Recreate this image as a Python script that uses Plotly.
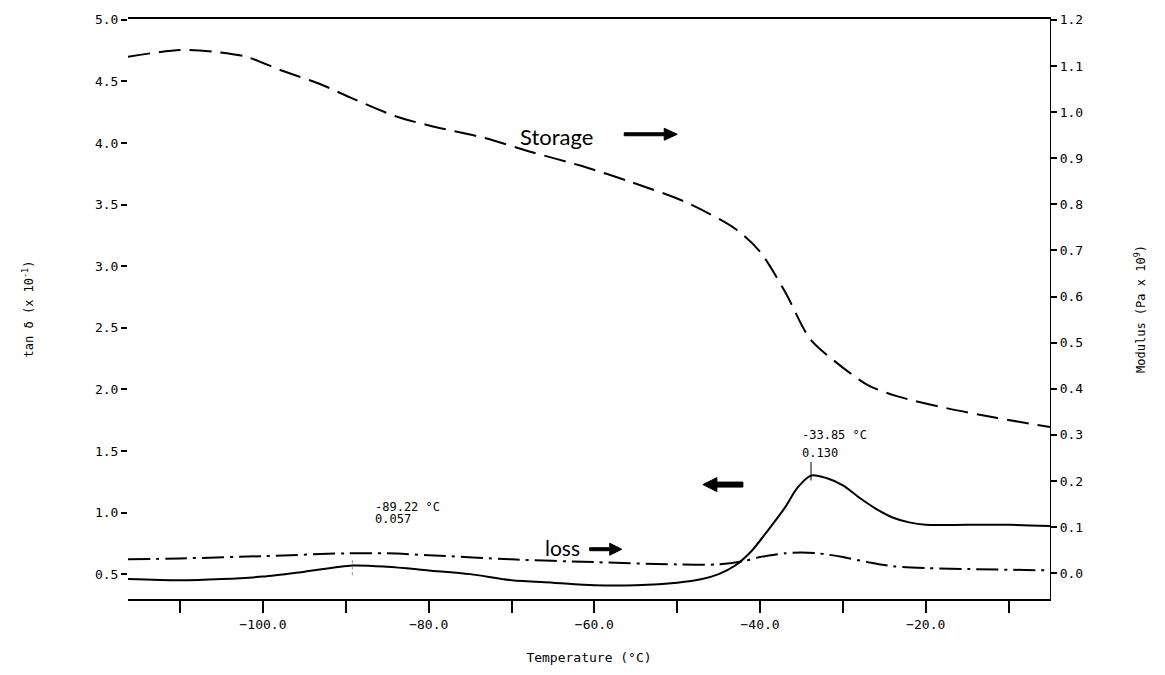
import plotly.graph_objects as go

# ---- data ----
# tan delta (left axis, x 10^-1)
tan_T = [-116.3, -110, -105, -100, -95, -89.22, -85, -80, -75, -70, -65, -60, -55, -50, -47, -45,
         -43, -41, -39, -37, -35.5, -33.85, -32, -30, -28, -26, -24, -22, -20, -15, -10, -5]
tan_v = [0.46, 0.45, 0.46, 0.48, 0.52, 0.57, 0.56, 0.53, 0.50, 0.45, 0.43, 0.41, 0.41, 0.43, 0.46, 0.50,
         0.57, 0.69, 0.86, 1.04, 1.20, 1.30, 1.28, 1.22, 1.12, 1.03, 0.96, 0.92, 0.90, 0.90, 0.90, 0.89]

# storage modulus (right axis, Pa x 10^9)
sto_T = [-116.3, -110, -106, -102, -98, -93, -89.5, -84, -79.5, -73.5, -67.5, -61.5, -55.5, -49, -43,
         -40, -37, -34, -31, -27, -23.5, -17.5, -11.5, -5]
sto_m = [1.120, 1.135, 1.131, 1.120, 1.092, 1.060, 1.032, 0.991, 0.969, 0.945, 0.913, 0.883, 0.848,
         0.805, 0.747, 0.697, 0.611, 0.509, 0.460, 0.408, 0.384, 0.358, 0.337, 0.317]

# loss modulus (right axis, Pa x 10^9)
loss_T = [-116.3, -110, -100, -90, -85, -80, -70, -60, -50, -45, -42, -40, -37, -35, -33, -30, -27,
          -24, -20, -15, -5]
loss_m = [0.030, 0.032, 0.037, 0.043, 0.043, 0.039, 0.030, 0.024, 0.019, 0.019, 0.026, 0.035, 0.043,
          0.045, 0.043, 0.035, 0.024, 0.015, 0.011, 0.009, 0.006]

x_major = [-100, -80, -60, -40, -20]
x_minor = [-110, -90, -70, -50, -30, -10]
left_ticks = [0.5, 1.0, 1.5, 2.0, 2.5, 3.0, 3.5, 4.0, 4.5, 5.0]
right_ticks = [0.0, 0.1, 0.2, 0.3, 0.4, 0.5, 0.6, 0.7, 0.8, 0.9, 1.0, 1.1, 1.2]

peak1_T, peak1_v = -89.22, 0.57
peak2_T, peak2_v = -33.85, 1.30

MONO = "DejaVu Sans Mono"
HAND = "Lato"

fig = go.Figure()
fig.add_trace(go.Scatter(x=tan_T, y=tan_v, mode="lines", name="tan δ",
                         line=dict(color="black", width=2, shape="spline", smoothing=0.8),
                         yaxis="y"))
fig.add_trace(go.Scatter(x=sto_T, y=sto_m, mode="lines", name="Storage",
                         line=dict(color="black", width=2, dash="22px,9px", shape="spline", smoothing=0.8),
                         yaxis="y2"))
fig.add_trace(go.Scatter(x=loss_T, y=loss_m, mode="lines", name="Loss",
                         line=dict(color="black", width=2, dash="22px,6px,3px,6px", shape="spline", smoothing=0.8),
                         yaxis="y2"))

fig.update_layout(
    width=1165, height=675,
    margin=dict(l=128, r=115, t=19, b=73),
    paper_bgcolor="white", plot_bgcolor="white",
    showlegend=False,
    font=dict(family=MONO, size=13, color="black"),
    xaxis=dict(range=[-116.3, -5], tickvals=x_major, tickformat=".1f",
               ticks="outside", ticklen=12, tickwidth=1.5, tickcolor="black",
               minor=dict(tickvals=x_minor, ticks="outside", ticklen=12, tickwidth=1.5, tickcolor="black",
                          showgrid=False),
               showline=True, linecolor="black", linewidth=2, mirror=True,
               showgrid=False, zeroline=False,
               tickfont=dict(family=MONO, size=13),
               title=dict(text="Temperature (°C)", font=dict(family=MONO, size=13), standoff=22)),
    yaxis=dict(range=[0.298, 5.007], tickvals=left_ticks, tickformat=".1f",
               ticks="outside", ticklen=6, tickwidth=1.5, tickcolor="black",
               showline=False, showgrid=False, zeroline=False,
               tickfont=dict(family=MONO, size=13),
               title=dict(text="tan δ (x 10<sup>-1</sup>)", font=dict(family=MONO, size=12), standoff=58)),
    yaxis2=dict(range=[-0.056, 1.202], tickvals=right_ticks, tickformat=".1f",
                overlaying="y", side="right",
                ticks="outside", ticklen=6, tickwidth=1.5, tickcolor="black",
                showline=True, linecolor="black", linewidth=1.2,
                showgrid=False, zeroline=False,
                tickfont=dict(family=MONO, size=13),
                title=dict(text="Modulus (Pa x 10<sup>9</sup>)", font=dict(family=MONO, size=12), standoff=54)),
)

# peak labels
fig.add_annotation(x=peak1_T + 2.5, y=1.041, xref="x", yref="y", text="-89.22 °C", showarrow=False,
                   xanchor="left", yanchor="middle", font=dict(family=MONO, size=12))
fig.add_annotation(x=peak1_T + 2.5, y=0.944, xref="x", yref="y", text="0.057", showarrow=False,
                   xanchor="left", yanchor="middle", font=dict(family=MONO, size=12))
fig.add_annotation(x=peak2_T - 1.35, y=1.631, xref="x", yref="y", text="-33.85 °C", showarrow=False,
                   xanchor="left", yanchor="middle", font=dict(family=MONO, size=12))
fig.add_annotation(x=peak2_T - 1.35, y=1.485, xref="x", yref="y", text="0.130", showarrow=False,
                   xanchor="left", yanchor="middle", font=dict(family=MONO, size=12))

# peak markers
fig.add_shape(type="line", xref="x", yref="y", x0=peak2_T, x1=peak2_T, y0=peak2_v - 0.04, y1=peak2_v + 0.11,
              line=dict(color="black", width=1))
fig.add_shape(type="line", xref="x", yref="y", x0=peak1_T, x1=peak1_T, y0=peak1_v - 0.08, y1=peak1_v + 0.05,
              line=dict(color="#888", width=1, dash="dot"))

# handwritten labels
fig.add_annotation(x=-64.6, y=0.948, xref="x", yref="y2", text="Storage", showarrow=False,
                   font=dict(family=HAND, size=22, color="black"))
fig.add_annotation(x=-63.8, y=0.056, xref="x", yref="y2", text="loss", showarrow=False,
                   font=dict(family=HAND, size=21, color="black"))

# hand-drawn arrows (pixel-sized paths anchored at the arrow tip)
RIGHT_ARROW = "M0,0 L-13,6 L-13,1.5 L-53,1.5 L-53,-1.5 L-13,-1.5 L-13,-6 Z"
SHORT_RIGHT = "M0,0 L-12,6 L-12,1.5 L-32,1.5 L-32,-1.5 L-12,-1.5 L-12,-6 Z"
LEFT_ARROW = "M0,0 L14,7 L14,2.5 L40,2.5 L40,-2.5 L14,-2.5 L14,-7 Z"
arrow_style = dict(fillcolor="black", line=dict(color="black", width=1))
fig.add_shape(type="path", xref="x", yref="y2", xsizemode="pixel", ysizemode="pixel",
              xanchor=-50.0, yanchor=0.952, path=RIGHT_ARROW, **arrow_style)
fig.add_shape(type="path", xref="x", yref="y2", xsizemode="pixel", ysizemode="pixel",
              xanchor=-56.7, yanchor=0.052, path=SHORT_RIGHT, **arrow_style)
fig.add_shape(type="path", xref="x", yref="y", xsizemode="pixel", ysizemode="pixel",
              xanchor=-46.9, yanchor=1.227, path=LEFT_ARROW, **arrow_style)

fig.write_html("out.html")
